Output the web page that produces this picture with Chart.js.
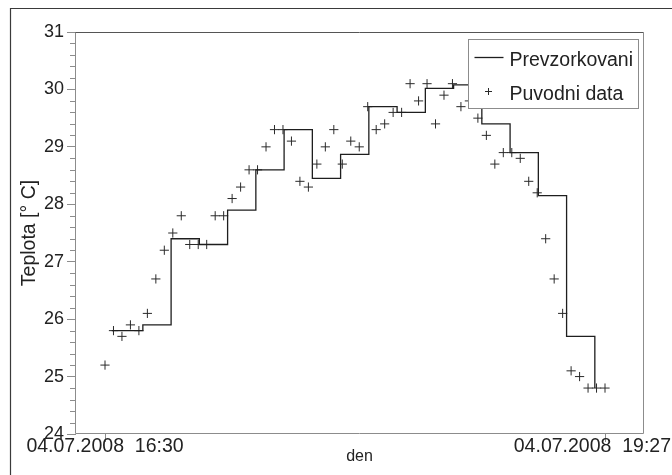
<!DOCTYPE html>
<html><head><meta charset="utf-8">
<script src="https://cdn.jsdelivr.net/npm/chart.js@4/dist/chart.umd.min.js"></script>
<style>html,body{margin:0;padding:0;background:#fff;}canvas{display:block;}</style>
</head><body>
<canvas id="c" width="672" height="475"></canvas>
<script>
// ---- data ----
const rawTimes = ['16:30','16:33','16:36','16:39','16:42','16:45','16:48','16:51','16:54','16:57',
  '17:00','17:03','17:06','17:09','17:12','17:15','17:18','17:21','17:24','17:27',
  '17:30','17:33','17:36','17:39','17:42','17:45','17:48','17:51','17:54','17:57',
  '18:00','18:03','18:06','18:09','18:12','18:15','18:18','18:21','18:24','18:27',
  '18:30','18:33','18:36','18:39','18:42','18:45','18:48','18:51','18:54','18:57',
  '19:00','19:03','19:06','19:09','19:12','19:15','19:18','19:21','19:24','19:27'];
const rawTemps = [25.2,25.8,25.7,25.9,25.8,26.1,26.7,27.2,27.5,27.8,
  27.3,27.3,27.3,27.8,27.8,28.1,28.3,28.6,28.6,29.0,
  29.3,29.3,29.1,28.4,28.3,28.7,29.0,29.3,28.7,29.1,
  29.0,29.7,29.3,29.4,29.6,29.6,30.1,29.8,30.1,29.4,
  29.9,30.1,29.7,29.8,29.5,29.2,28.7,28.9,28.9,28.8,
  28.4,28.2,27.4,26.7,26.1,25.1,25.0,24.8,24.8,24.8];
const stepTimes = ['16:32:24','16:43:24','16:53:24','17:03:24','17:13:24','17:23:24',
  '17:33:24','17:43:24','17:53:24','18:03:24','18:13:24','18:23:24',
  '18:33:24','18:43:24','18:53:24','19:03:24','19:13:24','19:23:24'];
const stepTemps = [25.8,25.9,27.4,27.3,27.9,28.6,29.3,28.45,28.87,29.7,29.6,30.02,30.08,29.4,28.9,28.15,25.7,24.8];
const seriesNames = ['Prevzorkovani','Puvodni data'];
const startTime = '16:30';
const xRange = ['16:19:44','19:40:27'];
const xTickTimes = ['16:30','19:27'];
const xTickLabels = ['04.07.2008  16:30','04.07.2008  19:27'];
const yTicks = [24,25,26,27,28,29,30,31];
const yMinorStep = 0.2;
const xTitle = 'den';
const yTitle = 'Teplota [° C]';

function toMin(s){
  const p = s.split(':').map(Number);
  const b = startTime.split(':').map(Number);
  return (p[0]*60 + p[1] + (p[2]||0)/60) - (b[0]*60 + b[1]);
}

const FONT = "'Liberation Sans', Arial, Helvetica, sans-serif";
Chart.defaults.font.family = FONT;
Chart.defaults.color = '#222';

const decor = {
  id: 'decor',
  beforeDraw(chart){
    const ctx = chart.ctx;
    // keep the last x label inside the canvas, as in the reference
    const xs = chart.scales.x;
    const items = xs.getLabelItems(chart.chartArea);
    if (items && items.length) {
      const last = items[items.length - 1];
      const o = last.options || last;
      if (o.translation) {
        o.textAlign = 'right';
        o.translation = [chart.width - 1, o.translation[1]];
      }
    }
    ctx.save();
    ctx.fillStyle = '#fff';
    ctx.fillRect(0,0,chart.width,chart.height);
    ctx.strokeStyle = '#3a3a3a';
    ctx.lineWidth = 1.2;
    ctx.beginPath();
    ctx.moveTo(10.5, chart.height);
    ctx.lineTo(10.5, 8.5);
    ctx.lineTo(chart.width, 8.5);
    ctx.stroke();
    ctx.restore();
  },
  afterDraw(chart){
    const ctx = chart.ctx, a = chart.chartArea, y = chart.scales.y;
    ctx.save();
    // minor ticks on y
    ctx.strokeStyle = '#8c8c8c';
    ctx.lineWidth = 1;
    ctx.beginPath();
    const n = Math.round((y.max - y.min)/yMinorStep);
    for (let k = 1; k < n; k++){
      if (k % 5 === 0) continue;
      const py = Math.round(y.getPixelForValue(y.min + k*yMinorStep)) + 0.5;
      ctx.moveTo(a.left - 6, py);
      ctx.lineTo(a.left, py);
    }
    ctx.stroke();
    // plot frame
    const L = Math.round(a.left) - 0.5, T = Math.round(a.top) + 0.5,
          R = Math.round(a.right) + 0.5, B = Math.round(a.bottom) - 0.5;
    ctx.strokeStyle = '#8c8c8c';
    ctx.beginPath();
    ctx.moveTo(L, T); ctx.lineTo(L, B); ctx.lineTo(R, B); ctx.lineTo(R, T);
    ctx.stroke();
    ctx.strokeStyle = '#555';
    ctx.beginPath(); ctx.moveTo(L, T); ctx.lineTo(R, T); ctx.stroke();
    // legend
    const ds = chart.data.datasets;
    const bx = Math.round(a.right) - 175 + 0.5, by = Math.round(a.top) + 7 + 0.5, bw = 170, bh = 69;
    ctx.fillStyle = '#fff';
    ctx.fillRect(bx, by, bw, bh);
    ctx.strokeStyle = '#8c8c8c';
    ctx.strokeRect(bx, by, bw, bh);
    ctx.strokeStyle = ds[0].borderColor;
    ctx.lineWidth = ds[0].borderWidth;
    ctx.beginPath(); ctx.moveTo(bx + 6, by + 18); ctx.lineTo(bx + 35, by + 18); ctx.stroke();
    ctx.strokeStyle = ds[1].borderColor;
    ctx.lineWidth = 1;
    const cx = bx + 20, cy = by + 52, r = 3.5;
    ctx.beginPath();
    ctx.moveTo(cx - r, cy); ctx.lineTo(cx + r, cy);
    ctx.moveTo(cx, cy - r); ctx.lineTo(cx, cy + r);
    ctx.stroke();
    ctx.fillStyle = '#222';
    ctx.font = '19.5px ' + FONT;
    ctx.textBaseline = 'alphabetic';
    ctx.textAlign = 'left';
    ctx.fillText(ds[0].label, bx + 41, by + 26);
    ctx.fillText(ds[1].label, bx + 41, by + 60);
    ctx.restore();
  }
};

new Chart(document.getElementById('c'), {
  type: 'line',
  data: {
    datasets: [
      {
        label: seriesNames[0],
        data: stepTimes.map((t,i) => ({x: toMin(t), y: stepTemps[i]})),
        stepped: true,
        borderColor: '#1e1e1e',
        borderWidth: 1.3,
        pointRadius: 0,
        fill: false
      },
      {
        label: seriesNames[1],
        data: rawTimes.map((t,i) => ({x: toMin(t), y: rawTemps[i]})),
        showLine: false,
        pointStyle: 'cross',
        pointRadius: 4.6,
        pointBorderWidth: 1,
        borderColor: '#2a2a2a',
        backgroundColor: '#2a2a2a',
        pointBorderColor: '#2a2a2a'
      }
    ]
  },
  options: {
    responsive: false,
    animation: false,
    devicePixelRatio: 1,
    layout: { padding: { top: 32, right: 29, bottom: 0, left: 0 } },
    plugins: { legend: { display: false }, tooltip: { enabled: false } },
    scales: {
      x: {
        type: 'linear',
        min: toMin(xRange[0]),
        max: toMin(xRange[1]),
        afterBuildTicks: s => { s.ticks = xTickTimes.map(t => ({value: toMin(t)})); },
        afterFit: s => { s.height = 41; s.paddingLeft = 0; s.paddingRight = 0; },
        ticks: {
          autoSkip: false, maxRotation: 0, minRotation: 0,
          padding: -7,
          font: { size: 19.5 },
          color: '#222',
          callback: (v, i) => xTickLabels[i]
        },
        grid: { drawOnChartArea: false, tickLength: 8, color: '#8c8c8c', tickColor: '#8c8c8c' },
        border: { display: false },
        title: { display: true, text: xTitle, font: { size: 16 }, color: '#222', padding: { top: 0, bottom: 9 } }
      },
      y: {
        min: yTicks[0],
        max: yTicks[yTicks.length - 1],
        afterBuildTicks: s => { s.ticks = yTicks.map(v => ({value: v})); },
        afterFit: s => { s.width = 76; s.paddingTop = 0; s.paddingBottom = 0; },
        ticks: { padding: 3, font: { size: 18 }, color: '#222' },
        grid: { drawOnChartArea: false, tickLength: 9, color: '#8c8c8c', tickColor: '#8c8c8c' },
        border: { display: false },
        title: { display: true, text: yTitle, font: { size: 19.5 }, color: '#222', padding: { top: 18, bottom: 0 } }
      }
    }
  },
  plugins: [decor]
});
</script>
</body></html>
